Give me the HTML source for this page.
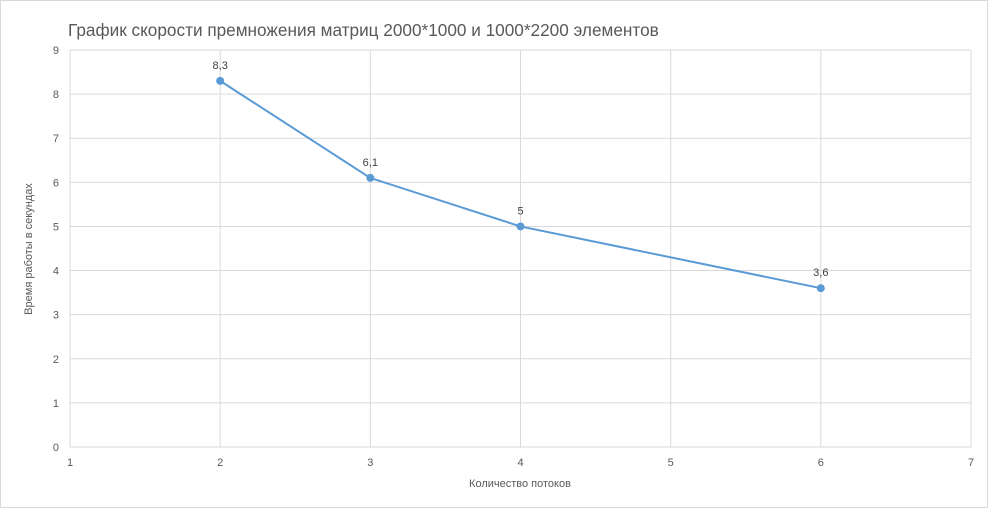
<!DOCTYPE html>
<html><head><meta charset="utf-8"><style>
html,body{margin:0;padding:0;background:#fff;}
svg{display:block;font-family:"Liberation Sans","Noto Sans CJK SC",sans-serif;}
</style></head><body>
<svg id="chart" width="988" height="508">
<rect x="0.5" y="0.5" width="987" height="507" fill="#fff" stroke="#d9d9d9"/>
<text x="68" y="36" font-size="17.2" fill="#595959">График скорости премножения матриц 2000*1000 и 1000*2200 элементов</text>
<g id="grid"></g>
<g id="ticks"></g>
<g id="series"></g>
<text x="520" y="487" font-size="11" fill="#595959" text-anchor="middle">Количество потоков</text>
<text transform="translate(32,249) rotate(-90)" font-size="11" fill="#595959" text-anchor="middle">Время работы в секундах</text>
</svg>
<script>
const xValues = [2, 3, 4, 6];
const yValues = [8.3, 6.1, 5, 3.6];
const pointLabels = ["8,3", "6,1", "5", "3,6"];
const xTicks = [1, 2, 3, 4, 5, 6, 7];
const yTicks = [0, 1, 2, 3, 4, 5, 6, 7, 8, 9];

const NS = "http://www.w3.org/2000/svg";
const X0 = 70, X1 = 971, Y0 = 447, Y1 = 50;
const sx = v => X0 + (v - 1) / 6 * (X1 - X0);
const sy = v => Y0 - v / 9 * (Y0 - Y1);
function mk(tag, attrs, parent, txt) {
  const e = document.createElementNS(NS, tag);
  for (const k in attrs) e.setAttribute(k, attrs[k]);
  if (txt !== undefined) e.textContent = txt;
  document.getElementById(parent).appendChild(e);
  return e;
}
yTicks.forEach(t => {
  const l = mk("line", {x1: X0, x2: X1, y1: sy(t), y2: sy(t), stroke: "#d9d9d9", "stroke-width": 1}, "grid");
  
  
  const tx = mk("text", {x: X0 - 11, y: sy(t) + 4, "font-size": 11, fill: "#595959", "text-anchor": "end"}, "ticks", String(t));
  
  
});
xTicks.forEach(t => {
  const l = mk("line", {x1: sx(t), x2: sx(t), y1: Y1, y2: Y0, stroke: "#d9d9d9", "stroke-width": 1}, "grid");
  
  
  const tx = mk("text", {x: sx(t), y: Y0 + 19, "font-size": 11, fill: "#595959", "text-anchor": "middle"}, "ticks", String(t));
  
  
});
const pts = xValues.map((x, i) => sx(x) + "," + sy(yValues[i])).join(" ");
const pl = mk("polyline", {points: pts, fill: "none", stroke: "#5b9bd5", "stroke-width": 2}, "series");


xValues.forEach((x, i) => {
  const c = mk("circle", {cx: sx(x), cy: sy(yValues[i]), r: 3.5, fill: "#5b9bd5", stroke: "#5b9bd5"}, "series");
  
  
  const t = mk("text", {x: sx(x), y: sy(yValues[i]) - 12, "font-size": 11, fill: "#404040", "text-anchor": "middle"}, "series", pointLabels[i]);
  
  
});
</script>
</body></html>
